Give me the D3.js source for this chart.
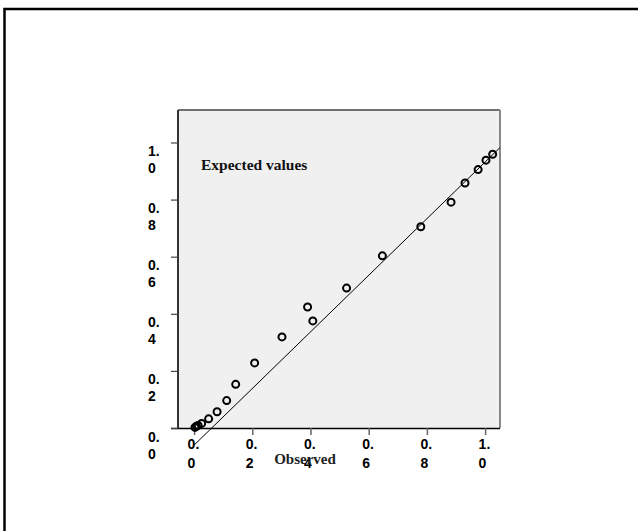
<!DOCTYPE html>
<html><head><meta charset="utf-8">
<script src="https://cdn.jsdelivr.net/npm/d3@7"></script>
<style>body{margin:0;background:#fff}</style>
</head><body>
<svg id="c" width="638" height="531"></svg>
<script>
// Data
const observed = [1.026, 1.003, 0.976, 0.931, 0.883, 0.779, 0.647, 0.524, 0.390, 0.408, 0.302, 0.208, 0.143, 0.112, 0.079, 0.050, 0.026, 0.014, 0.008, 0.003];
const expected = [0.959, 0.938, 0.905, 0.858, 0.791, 0.705, 0.603, 0.490, 0.424, 0.375, 0.319, 0.228, 0.153, 0.096, 0.057, 0.032, 0.016, 0.009, 0.006, 0.002];
const refLineX = [0, 1.051];
const refLineY = [-0.06, 0.982];
const xTicks = [0, 0.2, 0.4, 0.6, 0.8, 1.0];
const yTicks = [0, 0.2, 0.4, 0.6, 0.8, 1.0];
const xTickLabels = ["0.|0", "0.|2", "0.|4", "0.|6", "0.|8", "1.|0"];
const yTickLabels = ["0.|0", "0.|2", "0.|4", "0.|6", "0.|8", "1.|0"];
const xTitle = "Observed";
const yTitle = "Expected values";

const svg = d3.select("#c");
const L = 178, R = 500, T = 110, B = 428;

// outer frame (extends past the right/bottom edge)
svg.append("rect").attr("x", 4.5).attr("y", 9).attr("width", 700).attr("height", 600)
  .attr("fill", "none").attr("stroke", "#000").attr("stroke-width", 2.5);

const x = d3.scaleLinear().domain([-0.0553, 1.0512]).range([L, R]);
const y = d3.scaleLinear().domain([0, 1.1138]).range([B, T]);

// plot background
svg.append("rect").attr("x", L).attr("y", T).attr("width", R - L).attr("height", B - T)
  .attr("fill", "#f0f0f0");
svg.append("line").attr("x1", L).attr("x2", R).attr("y1", T).attr("y2", T).attr("stroke", "#444").attr("stroke-width", 1.5);
svg.append("line").attr("x1", R).attr("x2", R).attr("y1", T).attr("y2", B).attr("stroke", "#888").attr("stroke-width", 2);

// reference line
svg.append("line")
  .attr("x1", x(refLineX[0])).attr("y1", y(refLineY[0]))
  .attr("x2", x(refLineX[1])).attr("y2", y(refLineY[1]))
  .attr("stroke", "#000").attr("stroke-width", 1);

// axes
const fontTick = "bold 14px 'Liberation Sans', Arial, sans-serif";
const xAxis = svg.append("g").attr("transform", `translate(0,${B})`)
  .call(d3.axisBottom(x).tickValues(xTicks).tickSize(7).tickFormat(""));
xAxis.select(".domain").attr("d", `M${L - 7},0.5H${R}`).attr("stroke", "#000").attr("stroke-width", 1.5);
xAxis.selectAll(".tick line").attr("stroke", "#666").attr("stroke-width", 1.5);
xAxis.selectAll(".tick").each(function(d, i) {
  const parts = xTickLabels[i].split("|");
  const t = d3.select(this).append("text").attr("fill", "#000").attr("text-anchor", "start")
    .style("font", fontTick);
  t.append("tspan").attr("x", -7).attr("y", 21).text(parts[0]);
  t.append("tspan").attr("x", -7).attr("y", 40).text(parts[1]);
});

const yAxis = svg.append("g").attr("transform", `translate(${L},0)`)
  .call(d3.axisLeft(y).tickValues(yTicks).tickSize(7).tickFormat(""));
yAxis.select(".domain").attr("d", `M0,${T}V${B}`).attr("stroke", "#333").attr("stroke-width", 2);
yAxis.selectAll(".tick line").attr("stroke", "#444").attr("stroke-width", 1.2);
yAxis.selectAll(".tick").each(function(d, i) {
  const parts = yTickLabels[i].split("|");
  const t = d3.select(this).append("text").attr("fill", "#000").attr("text-anchor", "start")
    .style("font", fontTick);
  t.append("tspan").attr("x", -30).attr("y", 13).text(parts[0]);
  t.append("tspan").attr("x", -30).attr("y", 30).text(parts[1]);
});

// points
svg.append("g").selectAll("circle").data(observed).join("circle")
  .attr("cx", (d) => x(d)).attr("cy", (d, i) => y(expected[i]))
  .attr("r", 3.5).attr("fill", "none").attr("stroke", "#000").attr("stroke-width", 2);

// titles
svg.append("text").attr("x", 201).attr("y", 170).attr("fill", "#111")
  .style("font", "bold 15.5px 'Liberation Serif', 'Times New Roman', serif").text(yTitle);
svg.append("text").attr("x", 305).attr("y", 464).attr("text-anchor", "middle").attr("fill", "#222")
  .style("font", "bold 15px 'Liberation Serif', 'Times New Roman', serif").text(xTitle);
</script>
</body></html>
